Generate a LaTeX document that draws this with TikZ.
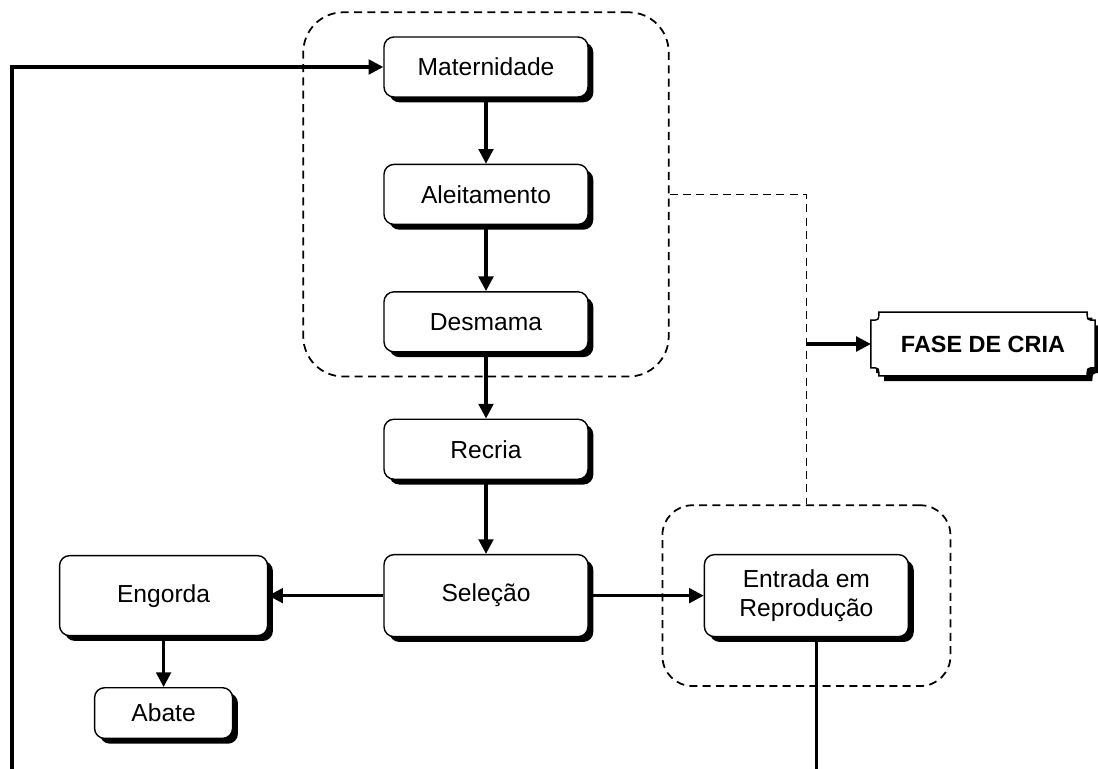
\documentclass[tikz,border=0pt]{standalone}
\usepackage{fontspec}
\setmainfont{Liberation Sans}
\usetikzlibrary{arrows.meta,positioning,fit,backgrounds,shadows,calc}
\tikzset{
  pbox/.style={rectangle, rounded corners=1.5mm, draw=black, line width=0.6pt, fill=white,
               align=center, font=\fontsize{10.5}{12.5}\selectfont, inner sep=1pt,
               minimum width=30.6mm, minimum height=9mm,
               drop shadow={fill=black, opacity=1, shadow xshift=0.8mm, shadow yshift=-0.8mm}},
  fbox/.style={rectangle, draw=none, align=center, font=\fontsize{10}{12}\selectfont\bfseries,
               minimum width=33.5mm, minimum height=9.4mm},
  parr/.style={-{Triangle[length=2.2mm,width=2.2mm]}, line width=1.3pt},
  grp/.style={draw, dash pattern=on 1.2mm off 0.8mm, line width=0.75pt},
  dline/.style={dash pattern=on 1.2mm off 0.8mm, line width=0.75pt},
}

\begin{document}
\begin{tikzpicture}[x=0.15mm, y=-0.15mm, node distance=9.9mm and 17.25mm]
    \useasboundingbox (0,0) rectangle (1098,769);
    \coordinate (bot) at (0,769);
    \coordinate (loopstart) at (12,769);

    \node[pbox](mat) at (486,67){Maternidade};
    \node[pbox, below=of mat](alei){Aleitamento};
    \node[pbox, below=of alei](desm){Desmama};
    \node[pbox, below=of desm](recr){Recria};
    \node[pbox, minimum height=12.3mm, below=11.1mm of recr](sel){Seleção};
    \node[pbox, minimum width=31.2mm, minimum height=12mm, left=of sel](eng){Engorda};
    \node[pbox, minimum width=20.7mm, minimum height=7.6mm, below=7.6mm of eng](abt){Abate};
    \node[pbox, minimum height=12.3mm, right=of sel](entr){Entrada em\\Reprodução};
    \node[fbox](fase) at (983,344){FASE DE CRIA};

    % concave corner box with shadow
    \begin{scope}[on background layer]
        \draw[fill=white, line width=0.6pt,
              preaction={fill=black, transform canvas={shift={(0.8mm,-0.8mm)}}}]
            let \p1=(fase.north west), \p2=(fase.south east) in
            (\x1+1.2mm,\y1) -- (\x2-1.2mm,\y1) .. controls (\x2-1.2mm,\y1-1.2mm) .. (\x2,\y1-1.2mm)
            -- (\x2,\y2+1.2mm) .. controls (\x2-1.2mm,\y2+1.2mm) .. (\x2-1.2mm,\y2)
            -- (\x1+1.2mm,\y2) .. controls (\x1+1.2mm,\y2+1.2mm) .. (\x1,\y2+1.2mm)
            -- (\x1,\y1-1.2mm) .. controls (\x1+1.2mm,\y1-1.2mm) .. (\x1+1.2mm,\y1) -- cycle;
        \node[grp, rounded corners=6mm, fit=(mat)(desm), inner xsep=12mm, inner ysep=3.6mm](cria){};
        \node[grp, rounded corners=4.5mm, fit=(entr), inner xsep=6.2mm, inner ysep=7.3mm](repr){};
    \end{scope}

    \draw[parr](mat)--(alei);
    \draw[parr](alei)--(desm);
    \draw[parr](desm)--(recr);
    \draw[parr](recr)--(sel);
    \draw[parr](sel)--(eng);
    \draw[parr](eng)--(abt);
    \draw[parr](sel)--(entr);
    \draw[dline](cria.east) -| (repr.north);
    \draw[parr](fase.west -| repr.north)--(fase.west);
    \draw[line width=1.3pt]([xshift=1.5mm]entr.south)--([xshift=1.5mm]entr.south |- bot);
    \draw[parr](loopstart) |- (mat.west);
\end{tikzpicture}
\end{document}
